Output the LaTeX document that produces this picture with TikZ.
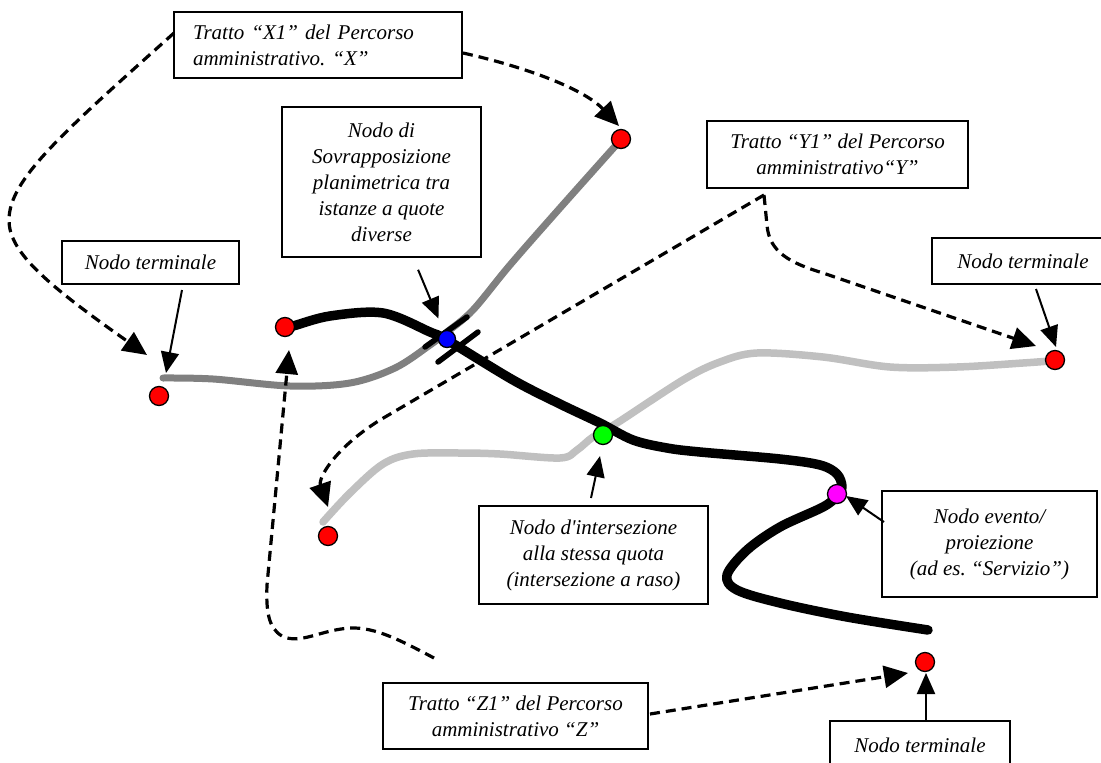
\documentclass[tikz,border=0pt]{standalone}
\usepackage{fontspec}
\newfontfamily\labfont{Liberation Serif}[Ligatures=TeXOff]
\usetikzlibrary{arrows.meta}
\definecolor{roadX}{HTML}{808080}
\definecolor{roadY}{HTML}{C0C0C0}
\definecolor{termred}{RGB}{255,0,0}
\definecolor{overblue}{RGB}{0,0,255}
\definecolor{levelgreen}{RGB}{0,255,0}
\definecolor{eventmag}{RGB}{255,0,255}
\begin{document}
\frenchspacing
\begin{tikzpicture}[x=1pt,y=-1pt,
  box/.style={draw=black, line width=1.5pt, fill=white, inner sep=0pt, align=center,
    font=\labfont\itshape\fontsize{21}{26}\selectfont},
  dot/.style={circle, draw=black, line width=1.3pt, minimum size=19pt, inner sep=0pt},
  term/.style={dot, fill=termred},
  ptr/.style={line width=2pt, -{Triangle[length=21pt,width=18pt]}},
  dptr/.style={line width=3.2pt, dash pattern=on 10pt off 6pt, -{Triangle[length=24pt,width=22pt]}},
  road/.style={line cap=round, line join=round}]
\useasboundingbox (0,0) rectangle (1101,763);
\clip (0,0) rectangle (1101,763);
\fill[white] (0,0) rectangle (1101,763);

% route Y (light grey)
\draw[road, roadY, line width=7.5pt] plot[smooth, tension=0.55] coordinates {
  (323,522) (350,493) (383,464) (413,454) (460,453) (500,454) (560,458) (577,450)
  (593,437) (617,423) (683,380) (720,362) (757,353) (823,357) (890,367) (957,367)
  (1023,363) (1050,361)};
% route Z (black)
\draw[road, black, line width=9.5pt] plot[smooth, tension=0.55] coordinates {
  (285,327) (293,326) (330,316) (383,313) (430,332) (447,340) (513,380) (560,404)
  (600,423) (633,440) (667,448) (700,452) (780,459) (820,465) (837,474) (842,487)
  (837,496) (823,507) (780,527) (747,550) (727,575) (737,590) (780,603) (847,617)
  (928,630)};
% route X (dark grey), passing over Z
\draw[road, roadX, line width=7pt] plot[smooth, tension=0.55] coordinates {
  (163,378) (213,379) (290,386) (350,383) (395,368) (430,345) (447,332) (473,310)
  (510,265) (560,208) (618,143)};
% overpass marks
\draw[line width=5.5pt, line cap=round] (425,347) -- (467,317);
\draw[line width=5.5pt, line cap=round] (438,362) -- (478,332);

% nodes on the routes
\node[term] (t1) at (621,139) {};
\node[term] (t2) at (159,396) {};
\node[term] (t3) at (285,327) {};
\node[term] (t4) at (1055,360) {};
\node[term] (t5) at (328,536) {};
\node[term] (t6) at (925,662) {};
\node[dot, fill=overblue, minimum size=17pt] (nb) at (447,339) {};
\node[dot, fill=levelgreen, minimum size=19pt] (ng) at (603,435) {};
\node[dot, fill=eventmag] (nm) at (837,494) {};

% labels
\node[box, minimum width=288pt, minimum height=66pt, text width=250pt, align=left] (x1) at (318,45)
  {Tratto “X1” del Percorso\\amministrativo. “X”};
\node[box, minimum width=199pt, minimum height=150pt] (sov) at (381.5,182)
  {Nodo di\\Sovrapposizione\\planimetrica tra\\istanze a quote\\diverse};
\node[box, minimum width=261pt, minimum height=67pt] (y1) at (837.5,154.5)
  {Tratto “Y1” del Percorso\\amministrativo“Y”};
\node[box, minimum width=177pt, minimum height=43pt] (ntl) at (150.5,262.5) {Nodo terminale};
\node[box, minimum width=182pt, minimum height=46pt] (ntr) at (1023,261) {Nodo terminale};
\node[box, minimum width=229pt, minimum height=98pt] (int) at (593.5,555)
  {Nodo d'intersezione\\alla stessa quota\\(intersezione a raso)};
\node[box, minimum width=215pt, minimum height=106pt] (evt) at (989.5,544)
  {Nodo evento/\\proiezione\\(ad es. “Servizio”)};
\node[box, minimum width=265pt, minimum height=66pt] (z1) at (515.5,716)
  {Tratto “Z1” del Percorso\\amministrativo “Z”};
\node[box, minimum width=180pt, minimum height=48pt] (ntb) at (920,745) {Nodo terminale};

% free ends of the pointers
\coordinate (pl1) at (182,290);  \coordinate (pl2) at (166,373);
\coordinate (pr1) at (1036,289); \coordinate (pr2) at (1056,347);
\coordinate (pb1) at (926,721);  \coordinate (pb2) at (926,673);
\coordinate (pi1) at (591,498);  \coordinate (pi2) at (600,456);
\coordinate (pe1) at (884,522);  \coordinate (pe2) at (846,496);

\draw[ptr, shorten <=13pt, shorten >=13pt] (sov) -- (nb);
\draw[ptr] (pl1) -- (pl2);
\draw[ptr] (pr1) -- (pr2);
\draw[ptr] (pb1) -- (pb2);
\draw[ptr] (pi1) -- (pi2);
\draw[ptr] (pe1) -- (pe2);

% dashed leaders from the route labels
\coordinate (xa) at (174,33);
\coordinate (xb) at (463,53);
\coordinate (ya) at (764,195);
\coordinate (za) at (650,714);
\coordinate (zb) at (434,658);
\draw[dptr] (xa) .. controls (60,135) and (9,180) .. (9,220)
  .. controls (9,250) and (40,280) .. (147,355);
\draw[dptr] (xb) .. controls (530,68) and (585,90) .. (619,126);
\draw[dptr] (ya) -- (380,420) .. controls (335,448) and (318,478) .. (328,507);
\draw[dptr] (ya) -- (767,225) .. controls (769,252) and (790,263) .. (823,273) -- (1036,346);
\draw[dptr] (za) -- (908,673);
\draw[dptr] (zb) .. controls (400,640) and (375,627) .. (350,628)
  .. controls (320,630) and (300,645) .. (282,636)
  .. controls (268,628) and (266,610) .. (267,585) -- (289,350);
\end{tikzpicture}
\end{document}
